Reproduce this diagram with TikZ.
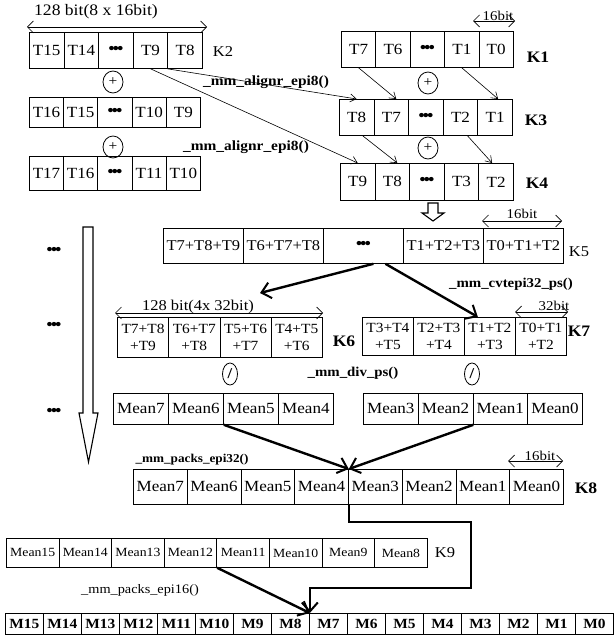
\documentclass[tikz,border=0pt]{standalone}
\usepackage{fontspec}
\setmainfont{Liberation Serif}[FakeStretch=1.1]
\usetikzlibrary{arrows.meta,shapes.geometric}
\newcommand{\fs}[1]{\fontsize{#1}{#1}\selectfont}
\newcommand{\dd}{{\fontsize{18}{18}\selectfont\textbullet\kern-2.6pt\textbullet\kern-2.6pt\textbullet}}
\newcommand{\cellrow}[7]{%
  \foreach \t [count=\i] in {#7}{%
    \node[cell, minimum width=#4pt, minimum height=#5pt, font=#6] (#1-\i) at ({#2+(\i-1)*#4},#3) {\t};
  }%
}
\tikzset{
  cell/.style={draw, line width=0.8pt, inner sep=0pt, anchor=north west, align=center},
  lab/.style={inner sep=0pt, font=\fs{15}},
  labb/.style={inner sep=0pt, font=\bfseries\fs{16}},
  fn/.style={inner sep=0pt, font=\bfseries\fs{14}},
  fnr/.style={inner sep=0pt, font=\fs{13}},
  dimt/.style={inner sep=0pt, font=\fs{13.5}},
  op/.style={draw, ellipse, line width=0.8pt, inner sep=0pt, minimum width=20pt, minimum height=22pt, font=\fs{14}},
  sl/.style={draw, ellipse, line width=0.8pt, inner sep=0pt, minimum width=15pt, minimum height=22pt, font=\bfseries\fs{15}},
  thinarr/.style={line width=0.6pt, -{Straight Barb[length=6pt,width=8pt]}},
  thickarr/.style={line width=2.4pt, -{Straight Barb[length=9pt,width=16pt,line width=2pt]}},
  dimarr/.style={line width=0.7pt, {Straight Barb[length=6pt,width=12pt]}-{Straight Barb[length=6pt,width=12pt]}},
  blk/.style={line width=1.1pt, fill=white},
  dots/.style={inner sep=0pt}
}
\begin{document}
\begin{tikzpicture}[x=1pt,y=-1pt]
\useasboundingbox (0,0) rectangle (615,636);

% rows
\cellrow{k2}{29}{32}{34.6}{36}{\fs{15.5}}{T15,T14,\dd,T9,T8}
\cellrow{r2}{29}{97}{34.2}{30}{\fs{15.5}}{T16,T15,\dd,T10,T9}
\cellrow{r3}{29}{156}{34.2}{34}{\fs{15.5}}{T17,T16,\dd,T11,T10}
\cellrow{k1}{341}{31}{34.4}{36}{\fs{15.5}}{T7,T6,\dd,T1,T0}
\cellrow{k3}{339}{99}{34.6}{36}{\fs{15.5}}{T8,T7,\dd,T2,T1}
\cellrow{k4}{340}{163}{34.6}{37}{\fs{15.5}}{T9,T8,\dd,T3,T2}
\cellrow{k5}{163}{228}{80}{35}{\fs{15}}{T7+T8+T9,T6+T7+T8,\dd,T1+T2+T3,T0+T1+T2}
\cellrow{k6}{117}{317}{51.25}{40}{\fontsize{14}{17}\selectfont}{{T7+T8\\+T9},{T6+T7\\+T8},{T5+T6\\+T7},{T4+T5\\+T6}}
\cellrow{k7}{362}{317}{51}{38}{\fontsize{14}{17}\selectfont}{{T3+T4\\+T5},{T2+T3\\+T4},{T1+T2\\+T3},{T0+T1\\+T2}}
\cellrow{ml}{113}{393}{55}{31}{\fs{15.5}}{Mean7,Mean6,Mean5,Mean4}
\cellrow{mr}{363}{393}{54.75}{31}{\fs{15.5}}{Mean3,Mean2,Mean1,Mean0}
\cellrow{k8}{133}{469}{53.75}{35}{\fs{15.5}}{Mean7,Mean6,Mean5,Mean4,Mean3,Mean2,Mean1,Mean0}
\cellrow{k9}{6}{538}{52.6}{29}{\fs{12.5}}{Mean15,Mean14,Mean13,Mean12,Mean11,Mean10,Mean9,Mean8}
\cellrow{fin}{5}{613}{38}{21}{\bfseries\fs{14}}{M15,M14,M13,M12,M11,M10,M9,M8,M7,M6,M5,M4,M3,M2,M1,M0}

% labels
\node[lab]  (lk2) at (223,52)  {K2};
\node[labb] (lk1) at (538,57)  {K1};
\node[labb] (lk3) at (536,120) {K3};
\node[labb] (lk4) at (537,183) {K4};
\node[lab]  (lk5) at (579,252) {K5};
\node[labb] (lk6) at (344,341) {K6};
\node[labb] (lk7) at (579,331) {K7};
\node[labb] (lk8) at (586,488) {K8};
\node[lab]  (lk9) at (445,553) {K9};

% function names
\node[fn]  (f1) at (266,82)  {\_mm\_alignr\_epi8()};
\node[fn]  (f2) at (246,147) {\_mm\_alignr\_epi8()};
\node[fn, font=\bfseries\fs{13.5}] (f3) at (511,284) {\_mm\_cvtepi32\_ps()};
\node[fn, font=\bfseries\fs{13.5}] (f4) at (353,373) {\_mm\_div\_ps()};
\node[fn, font=\bfseries\fs{12}] (f5) at (192,460) {\_mm\_packs\_epi32()};
\node[fnr] (f6) at (140,590) {\_mm\_packs\_epi16()};

% operators
\node[op] (o1) at (113,82)  {+};
\node[op] (o2) at (113,147) {+};
\node[op] (o3) at (428,83)  {+};
\node[op] (o4) at (428,148) {+};
\node[sl] (s1) at (230,374) {/};
\node[sl] (s2) at (472,374) {/};

% dimension texts and arrows
\node[dimt, font=\fs{16}] (t1) at (96,12)   {128 bit(8 x 16bit)};
\node[dimt] (t2) at (498,16)  {16bit};
\node[dimt] (t3) at (522,214) {16bit};
\node[dimt, font=\fs{15}] (t4) at (198,307) {128 bit(4x 32bit)};
\node[dimt] (t5) at (554,306) {32bit};
\node[dimt] (t6) at (540,456) {16bit};
\coordinate (a1) at (27,27);   \coordinate (b1) at (207,27);
\coordinate (a2) at (473,21);  \coordinate (b2) at (515,21);
\coordinate (a3) at (482,221); \coordinate (b3) at (562,221);
\coordinate (a4) at (115,313); \coordinate (b4) at (323,313);
\coordinate (a5) at (515,312); \coordinate (b5) at (568,312);
\coordinate (a6) at (508,461); \coordinate (b6) at (563,461);
\draw[dimarr] (a1) -- (b1);
\draw[dimarr] (a2) -- (b2);
\draw[dimarr] (a3) -- (b3);
\draw[dimarr] (a4) -- (b4);
\draw[dimarr] (a5) -- (b5);
\draw[dimarr] (a6) -- (b6);

% left dots
\node[dots] (d1) at (54,251) {\dd};
\node[dots] (d2) at (54,326) {\dd};
\node[dots] (d3) at (54,412) {\dd};

% thin arrows
\draw[thinarr] (k2-5.south west) -- (k3-1.north);
\draw[thinarr] (k2-4.south) -- (k4-1.north);
\draw[thinarr] (k1-1.south) -- ([xshift=5pt]k3-2.north);
\draw[thinarr] (k1-4.south) -- ([xshift=3pt]k3-5.north);
\draw[thinarr] ([xshift=6pt]k3-1.south) -- ([xshift=5pt]k4-2.north);
\draw[thinarr] ([xshift=7pt]k3-4.south) -- ([xshift=-4pt]k4-5.north);

% thick arrows
\coordinate (e6) at (260,293);
\draw[thickarr] ([xshift=10pt]k5-3.south) -- (e6);
\draw[thickarr] ([xshift=22pt]k5-3.south) -- ([xshift=-12pt]k7-3.north);
\draw[thickarr] (ml-2.south east) -- (k8-4.north east);
\draw[thickarr] (mr-2.south east) -- (k8-4.north east);
\coordinate (q1) at (471,522);
\coordinate (q2) at (471,588);
\draw[thickarr] (k8-4.south east) |- (q1) -- (q2) -| (fin-8.north east);
\draw[thickarr] (k9-4.south east) -- (fin-8.north east);

% block arrows
\draw[blk] (428,203) -- (438,203) -- (438,213) -- (444,213) -- (433,221) -- (422,213) -- (428,213) -- cycle;
\draw[blk] (83,227) -- (93,227) -- (93,413) -- (98,413) -- (88.5,462) -- (79,413) -- (83,413) -- cycle;
\end{tikzpicture}
\end{document}
